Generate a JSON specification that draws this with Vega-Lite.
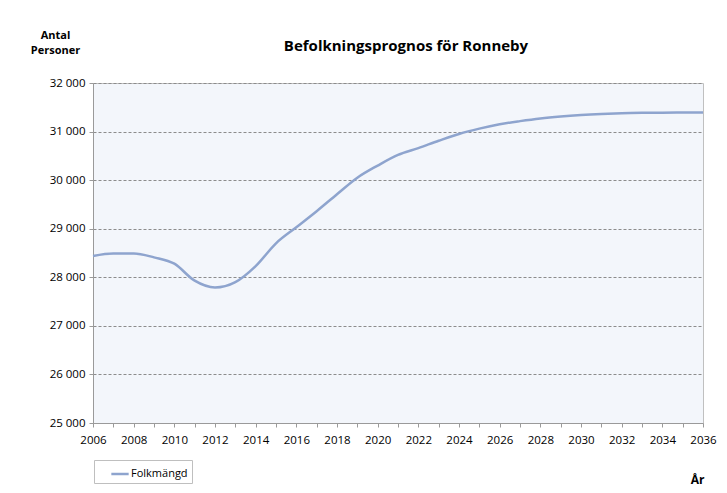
{
  "$schema": "https://vega.github.io/schema/vega-lite/v6.json",
  "autosize": "none",
  "width": 610,
  "height": 340,
  "padding": {"left": 93, "top": 83, "right": 24, "bottom": 70},
  "background": "white",
  "title": {
    "text": "Befolkningsprognos för Ronneby",
    "anchor": "middle",
    "frame": "group",
    "dx": 8,
    "offset": -25,
    "fontSize": 15,
    "fontWeight": "bold",
    "font": "Open Sans, sans-serif",
    "color": "#000000"
  },
  "config": {
    "font": "Open Sans, sans-serif",
    "view": {"fill": "#F3F6FB", "stroke": "#C0C0C0", "strokeWidth": 1}
  },
  "data": {
    "values": [
      {"year": 2006, "pop": 28440, "serie": "Folkmängd"},
      {"year": 2007, "pop": 28490, "serie": "Folkmängd"},
      {"year": 2008, "pop": 28490, "serie": "Folkmängd"},
      {"year": 2009, "pop": 28410, "serie": "Folkmängd"},
      {"year": 2010, "pop": 28280, "serie": "Folkmängd"},
      {"year": 2011, "pop": 27930, "serie": "Folkmängd"},
      {"year": 2012, "pop": 27790, "serie": "Folkmängd"},
      {"year": 2013, "pop": 27900, "serie": "Folkmängd"},
      {"year": 2014, "pop": 28230, "serie": "Folkmängd"},
      {"year": 2015, "pop": 28700, "serie": "Folkmängd"},
      {"year": 2016, "pop": 29030, "serie": "Folkmängd"},
      {"year": 2017, "pop": 29360, "serie": "Folkmängd"},
      {"year": 2018, "pop": 29710, "serie": "Folkmängd"},
      {"year": 2019, "pop": 30050, "serie": "Folkmängd"},
      {"year": 2020, "pop": 30300, "serie": "Folkmängd"},
      {"year": 2021, "pop": 30520, "serie": "Folkmängd"},
      {"year": 2022, "pop": 30660, "serie": "Folkmängd"},
      {"year": 2023, "pop": 30810, "serie": "Folkmängd"},
      {"year": 2024, "pop": 30950, "serie": "Folkmängd"},
      {"year": 2025, "pop": 31060, "serie": "Folkmängd"},
      {"year": 2026, "pop": 31150, "serie": "Folkmängd"},
      {"year": 2027, "pop": 31215, "serie": "Folkmängd"},
      {"year": 2028, "pop": 31270, "serie": "Folkmängd"},
      {"year": 2029, "pop": 31310, "serie": "Folkmängd"},
      {"year": 2030, "pop": 31340, "serie": "Folkmängd"},
      {"year": 2031, "pop": 31362, "serie": "Folkmängd"},
      {"year": 2032, "pop": 31378, "serie": "Folkmängd"},
      {"year": 2033, "pop": 31386, "serie": "Folkmängd"},
      {"year": 2034, "pop": 31390, "serie": "Folkmängd"},
      {"year": 2035, "pop": 31392, "serie": "Folkmängd"},
      {"year": 2036, "pop": 31393, "serie": "Folkmängd"}
    ]
  },
  "mark": {"type": "line", "interpolate": "monotone", "strokeWidth": 2.5},
  "encoding": {
    "x": {
      "field": "year",
      "type": "quantitative",
      "scale": {"domain": [2006, 2036], "nice": false, "zero": false},
      "axis": {
        "values": [2006,2007,2008,2009,2010,2011,2012,2013,2014,2015,2016,2017,2018,2019,2020,2021,2022,2023,2024,2025,2026,2027,2028,2029,2030,2031,2032,2033,2034,2035,2036],
        "labelExpr": "datum.value % 2 == 0 ? toString(datum.value) : ''",
        "grid": false,
        "domainColor": "#9A9A9A",
        "tickColor": "#9A9A9A",
        "tickSize": 4,
        "labelFontSize": 11.5,
        "labelColor": "#000000",
        "labelPadding": 7,
        "labelFlush": false,
        "labelOverlap": false,
        "title": "År",
        "titleFontSize": 12,
        "titleFontWeight": "bold",
        "titleColor": "#000000",
        "titleAnchor": "end",
        "titleAlign": "right",
        "titleX": 611,
        "titleY": 60,
        "titleBaseline": "alphabetic"
      }
    },
    "y": {
      "field": "pop",
      "type": "quantitative",
      "scale": {"domain": [25000, 32000], "nice": false, "zero": false},
      "axis": {
        "values": [25000, 26000, 27000, 28000, 29000, 30000, 31000, 32000],
        "labelExpr": "replace(format(datum.value, ','), ',', ' ')",
        "grid": true,
        "gridColor": "#8C8C8C",
        "gridDash": [3, 2],
        "gridWidth": 1,
        "domainColor": "#9A9A9A",
        "tickColor": "#9A9A9A",
        "tickSize": 4,
        "labelFontSize": 11.5,
        "labelColor": "#000000",
        "labelPadding": 4,
        "title": ["Antal", "Personer"],
        "titleAngle": 0,
        "titleFontSize": 11,
        "titleFontWeight": "bold",
        "titleColor": "#000000",
        "titleAlign": "center",
        "titleX": -38,
        "titleY": -45,
        "titleBaseline": "alphabetic",
        "titleLineHeight": 15
      }
    },
    "color": {
      "field": "serie",
      "type": "nominal",
      "scale": {"range": ["#8EA4CE"]},
      "legend": {
        "title": null,
        "orient": "none",
        "legendX": 1,
        "legendY": 377,
        "direction": "vertical",
        "symbolType": "stroke",
        "symbolStrokeWidth": 2.5,
        "symbolSize": 300,
        "symbolOffset": 12,
        "labelOffset": 1,
        "labelExpr": "datum.label + '\u00a0\u00a0\u00a0\u00a0'",
        "labelFontSize": 11,
        "labelColor": "#000000",
        "strokeColor": "#BFBFBF",
        "fillColor": "#FFFFFF",
        "padding": 4,
        "offset": 0
      }
    }
  }
}
